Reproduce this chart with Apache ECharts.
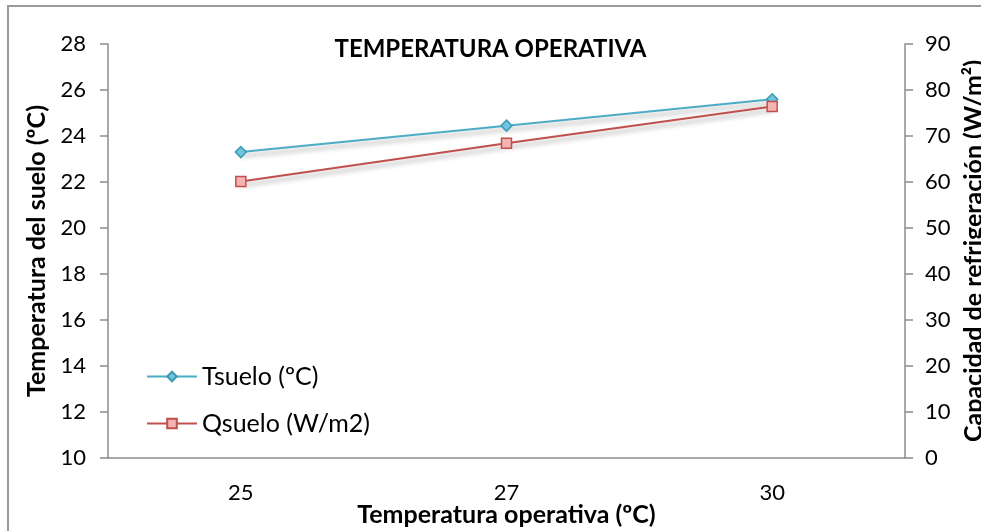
<!DOCTYPE html>
<html>
<head>
<meta charset="utf-8">
<script src="https://cdn.jsdelivr.net/npm/echarts@6/dist/echarts.min.js"></script>
<style>html,body{margin:0;padding:0;background:#fff;}#c{width:981px;height:531px;}</style>
</head>
<body>
<div id="c"></div>
<script>
var categories = ['25', '27', '30'];
var tsuelo = [23.3, 24.45, 25.6];
var qsuelo = [60.1, 68.4, 76.4];
var leftTicks = {min: 10, max: 28, interval: 2};
var rightTicks = {min: 0, max: 90, interval: 10};

var FONT = 'Lato';
var chart = echarts.init(document.getElementById('c'));
chart.setOption({
  backgroundColor: '#ffffff',
  animation: false,
  textStyle: {fontFamily: FONT},
  graphic: [{
    type: 'rect', silent: true, z: -1,
    shape: {x: 8, y: 6, width: 1200, height: 800},
    style: {fill: 'none', stroke: '#9a9a9a', lineWidth: 2}
  }],
  title: {
    text: 'TEMPERATURA OPERATIVA',
    left: 'center', top: 32,
    textStyle: {fontFamily: FONT, fontWeight: 'bold', fontSize: 24, color: '#000'}
  },
  legend: {
    orient: 'vertical', left: 146, top: 364, padding: 0,
    itemWidth: 50, itemHeight: 12, itemGap: 22,
    textStyle: {fontFamily: FONT, fontSize: 25, color: '#000'},
    data: ['Tsuelo (ºC)', 'Qsuelo (W/m2)']
  },
  grid: {left: 108, right: 76, top: 44, bottom: 73, outerBoundsMode: 'none', containLabel: false},
  xAxis: {
    type: 'category', data: categories, boundaryGap: true,
    name: 'Temperatura operativa (ºC)', nameLocation: 'middle', nameGap: 44,
    nameMoveOverlap: false,
    nameTextStyle: {fontFamily: FONT, fontWeight: 'bold', fontSize: 25, color: '#000'},
    axisLine: {lineStyle: {color: '#8c8c8c', width: 1.5}},
    axisTick: {show: false},
    axisLabel: {fontFamily: FONT, fontSize: 22, color: '#000', margin: 24}
  },
  yAxis: [{
    type: 'value', min: leftTicks.min, max: leftTicks.max, interval: leftTicks.interval,
    name: 'Temperatura del suelo (ºC)', nameLocation: 'middle', nameGap: 58, nameRotate: 90,
    nameTextStyle: {fontFamily: FONT, fontWeight: 'bold', fontSize: 25, color: '#000'},
    axisLine: {show: true, lineStyle: {color: '#8c8c8c', width: 1.5}},
    axisTick: {show: true, length: 8, lineStyle: {color: '#8c8c8c', width: 1.5}},
    splitLine: {show: false},
    axisLabel: {fontFamily: FONT, fontSize: 22, color: '#000', margin: 22}
  }, {
    type: 'value', min: rightTicks.min, max: rightTicks.max, interval: rightTicks.interval,
    position: 'right',
    name: 'Capacidad de refrigeración (W/m²)', nameLocation: 'middle', nameGap: 54, nameRotate: 90,
    nameTextStyle: {fontFamily: FONT, fontWeight: 'bold', fontSize: 25, color: '#000'},
    axisLine: {show: true, lineStyle: {color: '#8c8c8c', width: 1.5}},
    axisTick: {show: true, length: 8, lineStyle: {color: '#8c8c8c', width: 1.5}},
    splitLine: {show: false},
    axisLabel: {fontFamily: FONT, fontSize: 22, color: '#000', margin: 20}
  }],
  series: [{
    name: 'Tsuelo (ºC)', type: 'line', data: tsuelo, yAxisIndex: 0,
    symbol: 'diamond', symbolSize: 11,
    lineStyle: {color: '#4bacc6', width: 2, shadowColor: 'rgba(0,0,0,0.35)', shadowBlur: 5, shadowOffsetY: 4},
    itemStyle: {color: '#6cc6df', borderColor: '#3f9bb5', borderWidth: 1.5}
  }, {
    name: 'Qsuelo (W/m2)', type: 'line', data: qsuelo, yAxisIndex: 1,
    symbol: 'rect', symbolSize: 10,
    lineStyle: {color: '#c0504d', width: 2, shadowColor: 'rgba(0,0,0,0.35)', shadowBlur: 5, shadowOffsetY: 4},
    itemStyle: {color: '#f5b3b3', borderColor: '#c0504d', borderWidth: 1.5}
  }]
});
</script>
</body>
</html>
